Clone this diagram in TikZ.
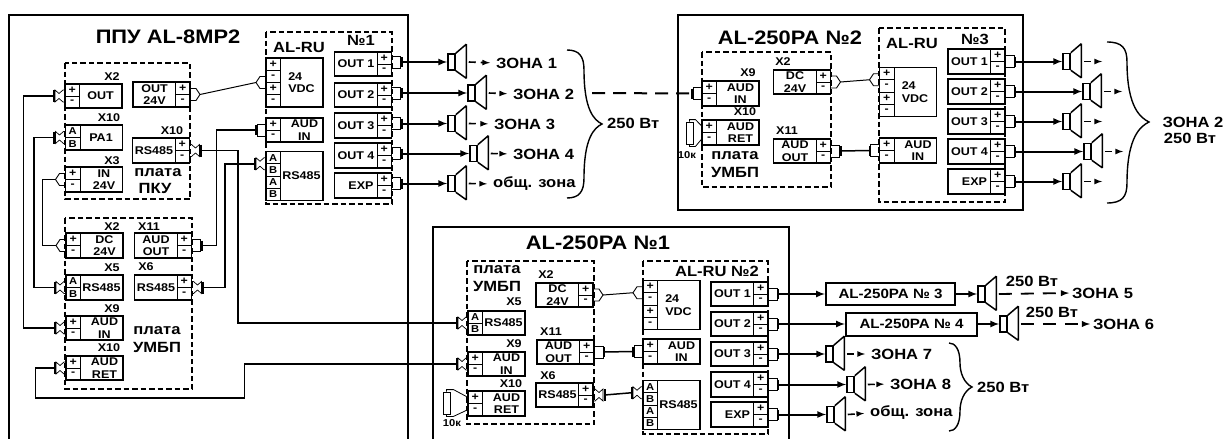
\documentclass[tikz,border=0pt]{standalone}
\usepackage{fontspec}
\setmainfont[FakeStretch=1.12]{Liberation Sans}
\usetikzlibrary{positioning}
\tikzstyle{blk} = [rectangle, draw=black, line width=1.6pt, inner sep=0pt, outer sep=0pt, minimum width=57pt, minimum height=24.5pt]
\tikzstyle{tallblk} = [rectangle, draw=black, line width=1.6pt, inner sep=0pt, outer sep=0pt, minimum width=57pt, minimum height=49pt]
\tikzstyle{cell} = [rectangle, draw=black, line width=1pt, inner sep=0pt, outer sep=0pt, minimum width=14.5pt, minimum height=12.25pt, font=\fontsize{10}{12}\selectfont\bfseries]
\tikzstyle{lbl} = [inner sep=0pt, align=center, font=\fontsize{11.2}{12.4}\selectfont\bfseries]
\tikzstyle{zn} = [inner sep=0pt, align=center, font=\fontsize{14.8}{16}\selectfont\bfseries]
\tikzstyle{ttl} = [inner sep=0pt, font=\fontsize{19.5}{20}\selectfont\bfseries]
\tikzstyle{amp} = [rectangle, draw=black, line width=2pt, inner sep=0pt, font=\fontsize{13.5}{14}\selectfont\bfseries]
\tikzstyle{spkbox} = [rectangle, draw=black, line width=1.5pt, inner sep=0pt, minimum width=7pt, minimum height=16pt]
\tikzstyle{res} = [rectangle, draw=black, line width=0.8pt, inner sep=0pt, minimum width=7pt, minimum height=22pt]
\tikzstyle{frame} = [line width=2.6pt, line cap=rect]
\tikzstyle{dbox} = [line width=1.3pt, dash pattern=on 5.5pt off 3pt]
\tikzstyle{wire} = [line width=1.5pt]
\tikzstyle{feed} = [-latex, line width=2pt]
\tikzstyle{zarrow} = [-latex, line width=1.6pt, dash pattern=on 7pt off 5pt, shorten >=6pt]
\tikzstyle{tiearrow} = [-latex, line width=1.8pt, dash pattern=on 13pt off 9pt, shorten >=3pt]
\tikzstyle{bus} = [line width=2pt, dash pattern=on 13pt off 8pt]
\tikzstyle{brc} = [line width=1.4pt]
\tikzset{
  plugbox/.pic={
    \draw [line width=0.9pt] (0,-6) -- (9,-6) -- (9,6) -- (0,6);
    \draw [line width=2pt] (10,-5) -- (10,5);
    \coordinate (-end) at (10,0);
  },
  plughex/.pic={
    \draw [line width=0.9pt] (0,-6) -- (6,-6) -- (10,0) -- (6,6) -- (0,6);
    \coordinate (-end) at (10,0);
  },
  plugx/.pic={
    \draw [line width=0.7pt] (0,-6) -- (2,-6) .. controls (4,-6) and (4,-2.5) .. (6,-2.5) .. controls (8,-2.5) and (8,-6) .. (10,-6) -- (10,6) .. controls (8,6) and (8,2.5) .. (6,2.5) .. controls (4,2.5) and (4,6) .. (2,6) -- (0,6);
    \draw [line width=2pt] (11.5,-6) -- (11.5,6);
    \coordinate (-end) at (11.5,0);
  }
}
\newcommand{\lblock}[6]{
  \node (#1) [blk] at (#2,#3) {};
  \node (#1-a) [cell, anchor=north west] at (#1.north west) {#4};
  \node (#1-b) [cell, anchor=south west] at (#1.south west) {#5};
  \node (#1-t) [lbl] at ([xshift=7pt]#1.center) {#6};
}
\newcommand{\rblock}[4]{
  \node (#1) [blk] at (#2,#3) {};
  \node (#1-a) [cell, anchor=north east] at (#1.north east) {\pp};
  \node (#1-b) [cell, anchor=south east] at (#1.south east) {\mm};
  \node (#1-t) [lbl] at ([xshift=-7pt]#1.center) {#4};
}
\newcommand{\tblock}[8]{
  \node (#1) [tallblk] at (#2,#3) {};
  \node (#1-a) [cell, anchor=north west] at (#1.north west) {#4};
  \node (#1-b) [cell, below=0pt of #1-a] {#5};
  \node (#1-c) [cell, below=0pt of #1-b] {#6};
  \node (#1-d) [cell, below=0pt of #1-c] {#7};
  \node (#1-t) [lbl, align=left] at ([xshift=7pt]#1.center) {#8};
}
\newcommand{\spk}[3]{
  \node (#1) [spkbox] at (#2+3.5,#3) {};
  \draw [line width=1.5pt, line join=bevel] (#1.north east) -- ++(10.5,-9) -- ++(0,34) -- (#1.south east);
  \coordinate (#1h) at ([xshift=13pt]#1.east);
}
\newcommand{\zbrace}[6]{
  \draw [brc] (#1,#2) .. controls ({#3-5},#2) and (#3,{#2+6}) .. (#3,{#2+20}) .. controls (#3,{#5-14}) and ({#4-8},{#5-4}) .. (#4,#5) .. controls ({#4-8},{#5+4}) and (#3,{#5+14}) .. (#3,{#6-20}) .. controls (#3,{#6-6}) and ({#3-5},#6) .. (#1,#6);
}
\newcommand{\ind}{\hspace*{6pt}}
\newcommand{\pp}{\fontsize{11}{11}\selectfont\bfseries +}
\newcommand{\mm}{\fontsize{11}{11}\selectfont\bfseries -}
\begin{document}
\begin{tikzpicture}[x=1pt, y=-1pt]
      \useasboundingbox (0,0) rectangle (1224,439);
      \draw [frame] (9,445) -- (9,15) -- (408,15) -- (408,445);
      \draw [frame] (678,15) rectangle (1023,210);
      \draw [frame] (433,445) -- (433,227) -- (789,227) -- (789,445);
      \node (t1) [ttl] at (168,37) {ППУ AL-8MP2};
      \node (t2) [ttl] at (790,38) {AL-250PA №2};
      \node (t3) [ttl] at (598,243) {AL-250PA №1};
      \draw [dbox] (65,63) rectangle (190,199);
      \draw [dbox] (266,32) rectangle (392,204);
      \draw [dbox] (65,218) rectangle (192,389);
      \draw [dbox] (702,52) rectangle (831,187);
      \draw [dbox] (879,28) rectangle (1005,202);
      \draw [dbox] (467,261) rectangle (594,424);
      \draw [dbox] (643,261) rectangle (768,434);
      % PPU board
      \lblock{ax2}{93.5}{96}{\pp}{\mm}{OUT}
      \rblock{ao24}{161.5}{94.5}{OUT\\24V}
      \lblock{apa}{94}{137.5}{A}{B}{PA1}
      \rblock{ars}{161}{150.5}{RS485}
      \lblock{ax3}{94}{179.5}{\pp}{\mm}{\ind IN\\\ind 24V}
      \node (ll1) [lbl] at (112,77) {X2};
      \node (ll2) [lbl] at (109,118) {X10};
      \node (ll3) [lbl] at (172,131) {X10};
      \node (ll4) [lbl] at (112,161) {X3};
      \node (pk1) [zn] at (158,173) {плата};
      \node (pk2) [zn] at (155,188) {ПКУ};
      % lower board
      \lblock{bdc}{94.5}{245.5}{\pp}{\mm}{\ind DC\\\ind 24V}
      \rblock{bao}{163}{245.5}{AUD\\OUT}
      \lblock{brs}{94.5}{287.5}{A}{B}{RS485}
      \rblock{brt}{163}{287.5}{RS485}
      \lblock{bai}{94.5}{328}{\pp}{\mm}{\ind AUD\\\ind IN}
      \lblock{bar}{94.5}{368}{\pp}{\mm}{\ind AUD\\\ind RET}
      \node (ml1) [lbl] at (112,227) {X2};
      \node (ml2) [lbl] at (149,227) {X11};
      \node (ml3) [lbl] at (112,268) {X5};
      \node (ml4) [lbl] at (146,267) {X6};
      \node (ml5) [lbl] at (112,309) {X9};
      \node (ml6) [lbl] at (109,348) {X10};
      \node (um1) [zn] at (157,331) {плата};
      \node (um2) [zn] at (157,347) {УМБП};
      % AL-RU 1
      \tblock{cv}{294.5}{82.5}{\pp}{\mm}{\pp}{\mm}{24\\VDC}
      \lblock{cai}{294.5}{130}{\pp}{\mm}{\ind AUD\\\ind IN}
      \tblock{crs}{294.5}{176}{A}{B}{A}{B}{RS485}
      \rblock{co1}{363}{64}{OUT 1}
      \rblock{co2}{363}{95}{OUT 2}
      \rblock{co3}{363}{125.5}{OUT 3}
      \rblock{co4}{363}{155.5}{OUT 4}
      \rblock{co5}{363}{185.5}{\hspace*{10pt}EXP}
      \node (ru1) [zn] at (299,47) {AL-RU};
      \node (ru2) [zn] at (361,40) {№1};
      % AL-250PA 2
      \lblock{dai}{730.5}{93.5}{\pp}{\mm}{\ind AUD\\\ind IN}
      \lblock{dar}{730.5}{132.5}{\pp}{\mm}{\ind AUD\\\ind RET}
      \rblock{ddc}{802}{82}{DC\\24V}
      \rblock{dao}{802}{151}{AUD\\OUT}
      \node (dl1) [lbl] at (748,73) {X9};
      \node (dl2) [lbl] at (745,112) {X10};
      \node (dl3) [lbl] at (783,62) {X2};
      \node (dl4) [lbl] at (787,131) {X11};
      \node (dp1) [zn] at (735,156) {плата};
      \node (dp2) [zn] at (735,172) {УМБП};
      \node (dr) [res] at (689.5,133) {};
      \node (dk) [lbl, font=\fontsize{10}{10}\selectfont\bfseries] at (687,155) {10к};
      % AL-RU 3
      \tblock{ev}{908}{92}{\pp}{\mm}{\pp}{\mm}{24\\VDC}
      \lblock{eai}{908}{150.5}{\pp}{\mm}{\ind AUD\\\ind IN}
      \rblock{eo1}{976.5}{61.5}{OUT 1}
      \rblock{eo2}{976.5}{91.5}{OUT 2}
      \rblock{eo3}{976.5}{121.5}{OUT 3}
      \rblock{eo4}{976.5}{151.5}{OUT 4}
      \rblock{eo5}{976.5}{181.5}{\hspace*{10pt}EXP}
      \node (ru3) [zn] at (912,43) {AL-RU};
      \node (ru4) [zn] at (975,39) {№3};
      % AL-250PA 1
      \lblock{frs}{496.5}{323}{A}{B}{RS485}
      \lblock{fai}{496.5}{364}{\pp}{\mm}{\ind AUD\\\ind IN}
      \lblock{far}{496.5}{403.5}{\pp}{\mm}{\ind AUD\\\ind RET}
      \rblock{fdc}{564.5}{295}{DC\\24V}
      \rblock{fao}{565.5}{352}{AUD\\OUT}
      \rblock{frt}{564.5}{395}{RS485}
      \node (fl1) [lbl] at (514,302) {X5};
      \node (fl2) [lbl] at (514,344) {X9};
      \node (fl3) [lbl] at (511,384) {X10};
      \node (fl4) [lbl] at (546,275) {X2};
      \node (fl5) [lbl] at (551,332) {X11};
      \node (fl6) [lbl] at (548,376) {X6};
      \node (fp1) [zn] at (497,270) {плата};
      \node (fp2) [zn] at (497,286) {УМБП};
      \node (fr) [res] at (446.5,403) {};
      \node (fk) [lbl, font=\fontsize{10}{10}\selectfont\bfseries] at (452,423) {10к};
      % AL-RU 2
      \tblock{gv}{671.5}{305}{\pp}{\mm}{\pp}{\mm}{24\\VDC}
      \lblock{gai}{671.5}{351.5}{\pp}{\mm}{\ind AUD\\\ind IN}
      \tblock{grs}{671.5}{405}{A}{B}{A}{B}{RS485}
      \rblock{go1}{739.5}{294}{OUT 1}
      \rblock{go2}{739.5}{324}{OUT 2}
      \rblock{go3}{739.5}{354}{OUT 3}
      \rblock{go4}{739.5}{384.5}{OUT 4}
      \rblock{go5}{739.5}{414.5}{\hspace*{10pt}EXP}
      \node (ru5) [zn] at (717,271) {AL-RU №2};
      % plugs, PPU
      \pic (p1) [xscale=-1] at (ax2.west) {plugx};
      \pic (p2) [xscale=-1] at (apa.west) {plugx};
      \pic (p3) [xscale=-1] at (ax3.west) {plughex};
      \pic (p4) at (ao24.east) {plughex};
      \pic (p5) at (ars.east) {plugx};
      \pic (p6) [xscale=-1] at (cv-c.north west) {plughex};
      \pic (p7) [xscale=-1] at (cai.west) {plugbox};
      \pic (p8) [xscale=-1] at (crs-a.south west) {plugx};
      \pic (p9) [xscale=-1] at (bdc.west) {plughex};
      \pic (p10) at (bao.east) {plugbox};
      \pic (p11) [xscale=-1] at (brs.west) {plugx};
      \pic (p12) at (brt.east) {plugx};
      \pic (p13) [xscale=-1] at (bai.west) {plugx};
      \pic (p14) [xscale=-1] at (bar.west) {plugx};
      \pic (q1) at ([yshift=2pt]co1.east) {plugbox};
      \pic (q2) at ([yshift=2pt]co2.east) {plugbox};
      \pic (q3) at ([yshift=2pt]co3.east) {plugbox};
      \pic (q4) at ([yshift=2pt]co4.east) {plugbox};
      \pic (q5) at ([yshift=2pt]co5.east) {plugbox};
      % plugs, AL-250PA 2
      \pic (r1) [xscale=-1] at (dai.west) {plugbox};
      \pic (r2) at (ddc.east) {plughex};
      \pic (r3) [xscale=-1] at (ev-a.south west) {plughex};
      \pic (r4) at (dao.east) {plugbox};
      \pic (r5) [xscale=-1] at (eai.west) {plugbox};
      \pic (u1) at (eo1.east) {plugbox};
      \pic (u2) at (eo2.east) {plugbox};
      \pic (u3) at (eo3.east) {plugbox};
      \pic (u4) at (eo4.east) {plugbox};
      \pic (u5) at (eo5.east) {plugbox};
      % plugs, AL-250PA 1
      \pic (v1) [xscale=-1] at (frs.west) {plugx};
      \pic (v2) [xscale=-1] at (fai.west) {plugx};
      \pic (v3) at (fdc.east) {plughex};
      \pic (v4) [xscale=-1] at (gv-a.south west) {plughex};
      \pic (v5) at (fao.east) {plugbox};
      \pic (v6) [xscale=-1] at (gai.west) {plugbox};
      \pic (v7) at (frt.east) {plugx};
      \pic (v8) [xscale=-1] at (grs-a.south west) {plugx};
      \pic (w1) at (go1.east) {plugbox};
      \pic (w2) at (go2.east) {plugbox};
      \pic (w3) at (go3.east) {plugbox};
      \pic (w4) at (go4.east) {plugbox};
      \pic (w5) at (go5.east) {plugbox};
      % wires
      \draw [wire] (p1-end) -- ++(-30,0) |- (p13-end);
      \draw [wire] (p2-end) -- ++(-20,0) |- (p11-end);
      \draw [wire] (p3-end) -- ++(-13,0) |- (p9-end);
      \draw [line width=1pt] (p4-end) -- (p6-end);
      \draw [wire] (p10-end) -- ++(15,0) |- (p7-end);
      \draw [wire] (p12-end) -- ++(22,0) |- (p8-end);
      \draw [wire] (p5-end) -- ++(37,0) |- (v1-end);
      \draw [wire] (p14-end) -- ++(-19,0) -- ++(0,30) -- ++(209,0) |- (v2-end);
      \draw [line width=1pt] (r2-end) -- (r3-end);
      \draw [wire] (r4-end) -- (r5-end);
      \draw [line width=1pt] (v3-end) -- (v4-end);
      \draw [wire] (v5-end) -- (v6-end);
      \draw [wire] (v7-end) -- (v8-end);
      \draw [line width=0.8pt] (dr.north) -- ++(0,-2) -- ++(6,0) -- (dar-a.west);
      \draw [line width=0.8pt] (dr.south) -- ++(0,2) -- ++(6,0) -- (dar-b.west);
      \draw [line width=0.8pt] (fr.north) -- ++(0,-2) -- ++(7,0) -- (far-a.west);
      \draw [line width=0.8pt] (fr.south) -- ++(0,2) -- ++(7,0) -- (far-b.west);
      % zone speakers
      \spk{s1}{448}{62}
      \spk{s2}{468}{93}
      \spk{s3}{448}{123.5}
      \spk{s4}{470}{153.5}
      \spk{s5}{448}{183.5}
      \node (z1) [zn, anchor=west] at (496,63) {ЗОНА 1};
      \node (z2) [zn, anchor=west] at (513,94) {ЗОНА 2};
      \node (z3) [zn, anchor=west] at (494,124) {ЗОНА 3};
      \node (z4) [zn, anchor=west] at (513,154) {ЗОНА 4};
      \node (z5) [zn, anchor=west] at (493,184) {общ. зона};
      \draw [feed] (q1-end) -- (s1.west);
      \draw [feed] (q2-end) -- (s2.west);
      \draw [feed] (q3-end) -- (s3.west);
      \draw [feed] (q4-end) -- (s4.west);
      \draw [feed] (q5-end) -- (s5.west);
      \draw [zarrow] (s1h) -- (z1.west);
      \draw [zarrow] (s2h) -- (z2.west);
      \draw [zarrow] (s3h) -- (z3.west);
      \draw [zarrow] (s4h) -- (z4.west);
      \draw [zarrow] (s5h) -- (z5.west);
      \zbrace{567}{50}{584}{602}{124}{198}
      \node (w1t) [zn, anchor=west] at (607,123) {250 Вт};
      \coordinate (bz) at (592,93);
      \draw [bus] (bz) -- (r1-end);
      % second group
      \spk{s6}{1063}{61.5}
      \spk{s7}{1083}{91.5}
      \spk{s8}{1063}{121.5}
      \spk{s9}{1084}{151.5}
      \spk{s10}{1063}{181.5}
      \coordinate (e6) at (1108,61.5);
      \coordinate (e7) at (1128,91.5);
      \coordinate (e8) at (1108,121.5);
      \coordinate (e9) at (1129,151.5);
      \coordinate (e10) at (1108,181.5);
      \draw [feed] (u1-end) -- (s6.west);
      \draw [feed] (u2-end) -- (s7.west);
      \draw [feed] (u3-end) -- (s8.west);
      \draw [feed] (u4-end) -- (s9.west);
      \draw [feed] (u5-end) -- (s10.west);
      \draw [zarrow] (s6h) -- (e6);
      \draw [zarrow] (s7h) -- (e7);
      \draw [zarrow] (s8h) -- (e8);
      \draw [zarrow] (s9h) -- (e9);
      \draw [zarrow] (s10h) -- (e10);
      \zbrace{1107}{42}{1127}{1149}{122}{203}
      \node (z6) [zn] at (1193,122) {ЗОНА 2};
      \node (z7) [zn] at (1190,138) {250 Вт};
      % third group
      \node (a3) [amp, minimum width=129pt, minimum height=22pt] at (890.5,294) {AL-250PA № 3};
      \node (a4) [amp, minimum width=131pt, minimum height=23pt] at (911.5,324) {AL-250PA № 4};
      \spk{s11}{978}{294}
      \spk{s12}{1000}{324}
      \spk{s13}{826}{354}
      \spk{s14}{847}{384.5}
      \spk{s15}{827}{414.5}
      \node (z8) [zn, anchor=west] at (1072,293) {ЗОНА 5};
      \node (z9) [zn, anchor=west] at (1093,324) {ЗОНА 6};
      \node (z10) [zn, anchor=west] at (871,354) {ЗОНА 7};
      \node (z11) [zn, anchor=west] at (890,384) {ЗОНА 8};
      \node (z12) [zn, anchor=west] at (870,413) {общ. зона};
      \node (w5t) [zn] at (1032,281) {250 Вт};
      \node (w6t) [zn] at (1052,312) {250 Вт};
      \draw [feed] (w1-end) -- (a3.west);
      \draw [feed] (w2-end) -- (a4.west);
      \draw [feed] (a3.east) -- (s11.west);
      \draw [feed] (a4.east) -- (s12.west);
      \draw [feed] (w3-end) -- (s13.west);
      \draw [feed] (w4-end) -- (s14.west);
      \draw [feed] (w5-end) -- (s15.west);
      \draw [tiearrow] (s11h) -- (z8.west);
      \draw [tiearrow] (s12h) -- (z9.west);
      \draw [zarrow] (s13h) -- (z10.west);
      \draw [zarrow] (s14h) -- (z11.west);
      \draw [zarrow] (s15h) -- (z12.west);
      \zbrace{949}{343}{960}{972}{387}{431}
      \node (w7t) [zn, anchor=west] at (977,387) {250 Вт};
\end{tikzpicture}
\end{document}
